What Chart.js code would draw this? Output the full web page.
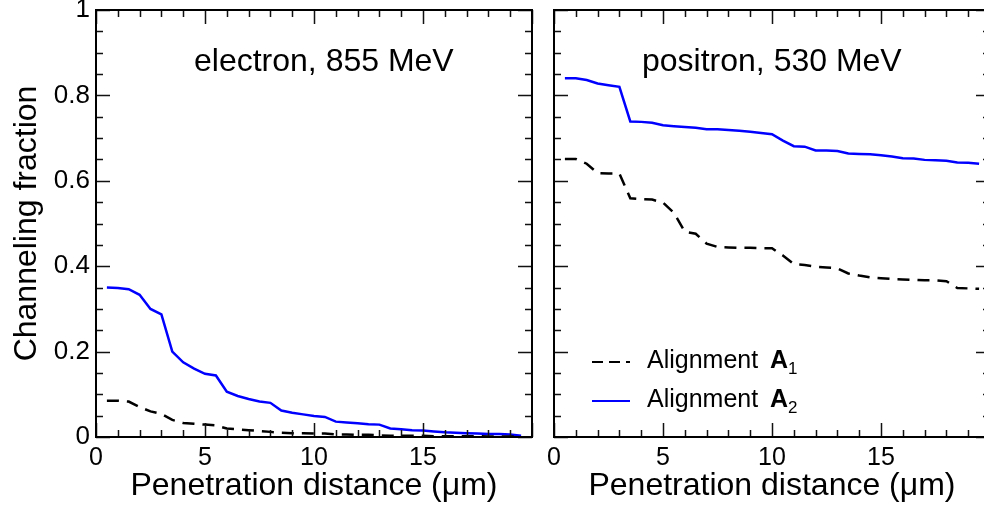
<!DOCTYPE html>
<html>
<head>
<meta charset="utf-8">
<title>Channeling fraction</title>
<script src="https://cdn.jsdelivr.net/npm/chart.js@4.4.0/dist/chart.umd.min.js"></script>
<style>
  html, body { margin: 0; padding: 0; background: #fff; overflow: hidden; }
  #wrap { position: relative; width: 984px; height: 507px; overflow: hidden; }
  #electron { position: absolute; left: 0; top: 0; }
  #positron { position: absolute; left: 545px; top: 0; }
</style>
</head>
<body>
<div id="wrap">
  <canvas id="electron" width="545" height="507"></canvas>
  <canvas id="positron" width="452" height="507"></canvas>
</div>
<script>
// penetration depth (um) of each simulation bin
const depth = [0.5, 1, 1.5, 2, 2.5, 3, 3.5, 4, 4.5, 5, 5.5, 6, 6.5, 7, 7.5, 8, 8.5, 9, 9.5, 10,
  10.5, 11, 11.5, 12, 12.5, 13, 13.5, 14, 14.5, 15, 15.5, 16, 16.5, 17, 17.5, 18, 18.5, 19, 19.5];

// electron, 855 MeV
const electronA1 = [0.085, 0.085, 0.083, 0.070, 0.060, 0.054, 0.040, 0.033, 0.031, 0.029, 0.027, 0.020,
  0.018, 0.016, 0.014, 0.012, 0.010, 0.009, 0.009, 0.008, 0.008, 0.006, 0.006, 0.005, 0.005, 0.004,
  0.003, 0.003, 0.003, 0.003, 0.002, 0.002, 0.002, 0.002, 0.002, 0.001, 0.001, 0.001, 0.001];
const electronA2 = [0.350, 0.349, 0.346, 0.333, 0.300, 0.287, 0.200, 0.175, 0.160, 0.148, 0.144, 0.106,
  0.096, 0.089, 0.083, 0.080, 0.062, 0.057, 0.053, 0.049, 0.047, 0.036, 0.034, 0.032, 0.030, 0.029,
  0.020, 0.018, 0.016, 0.015, 0.013, 0.011, 0.010, 0.009, 0.008, 0.007, 0.007, 0.006, 0.003];

// positron, 530 MeV
const positronA1 = [0.651, 0.651, 0.640, 0.618, 0.617, 0.617, 0.559, 0.557, 0.556, 0.549, 0.525, 0.481,
  0.476, 0.453, 0.445, 0.444, 0.443, 0.443, 0.442, 0.442, 0.425, 0.405, 0.403, 0.399, 0.397, 0.395,
  0.383, 0.378, 0.374, 0.372, 0.370, 0.369, 0.368, 0.367, 0.367, 0.365, 0.349, 0.348, 0.347];
const positronA2 = [0.840, 0.840, 0.836, 0.828, 0.824, 0.820, 0.739, 0.738, 0.736, 0.730, 0.728, 0.726,
  0.724, 0.721, 0.721, 0.719, 0.717, 0.715, 0.712, 0.709, 0.694, 0.681, 0.680, 0.671, 0.671, 0.670,
  0.664, 0.663, 0.662, 0.660, 0.657, 0.653, 0.652, 0.649, 0.648, 0.647, 0.643, 0.642, 0.640];

// legend entries: plain text, bold symbol, subscript
const legendParts = [['Alignment', 'A', '1'], ['Alignment', 'A', '2']];

const FONT = 'Liberation Sans, Arial, Helvetica, sans-serif';
Chart.defaults.font.family = FONT;
Chart.defaults.color = '#000';

// box around the plot with inward ticks on all four sides
const frameTicks = {
  id: 'frameTicks',
  afterDatasetsDraw(chart) {
    const {ctx, chartArea: a, scales: {x, y}} = chart;
    ctx.save();
    ctx.strokeStyle = '#111';
    ctx.lineWidth = 1.5;
    ctx.beginPath();
    for (let v = 0; v <= 20; v++) {
      const px = Math.round(x.getPixelForValue(v)) + 0.5;
      const len = v % 5 === 0 ? 14 : 7;
      ctx.moveTo(px, a.bottom); ctx.lineTo(px, a.bottom - len);
      ctx.moveTo(px, a.top); ctx.lineTo(px, a.top + len);
    }
    for (let i = 0; i <= 20; i++) {
      const py = Math.round(y.getPixelForValue(i * 0.05)) + 0.5;
      const len = i % 4 === 0 ? 14 : 7;
      ctx.moveTo(a.left, py); ctx.lineTo(a.left + len, py);
      ctx.moveTo(a.right, py); ctx.lineTo(a.right - len, py);
    }
    ctx.stroke();
    ctx.strokeStyle = '#000';
    ctx.lineWidth = 2;
    ctx.strokeRect(a.left, a.top, a.width, a.height);
    ctx.restore();
  }
};

// particle/energy caption inside the panel, plus optional legend
const panelText = {
  id: 'panelText',
  afterDraw(chart, args, opts) {
    const {ctx, chartArea: a} = chart;
    ctx.save();
    ctx.fillStyle = '#000';
    ctx.textBaseline = 'alphabetic';
    ctx.font = '32px ' + FONT;
    ctx.fillText(opts.text, a.left + opts.dx, a.top + opts.dy);

    if (opts.legend) {
      chart.data.datasets.forEach((ds, i) => {
        const rowY = a.top + 352 + i * 39;
        ctx.strokeStyle = ds.borderColor;
        ctx.lineWidth = 2;
        ctx.setLineDash(ds.borderDash ? [11, 6] : []);
        ctx.beginPath();
        ctx.moveTo(a.left + 38, rowY);
        ctx.lineTo(a.left + 76, rowY);
        ctx.stroke();
        ctx.setLineDash([]);

        const [label, sym, sub] = legendParts[i];
        const tx = a.left + 93, base = rowY + 6;
        ctx.font = '25px ' + FONT;
        ctx.fillText(label, tx, base);
        ctx.font = 'bold 25px ' + FONT;
        ctx.fillText(sym, tx + 123, base);
        const w = ctx.measureText(sym).width;
        ctx.font = '17px ' + FONT;
        ctx.fillText(sub, tx + 123 + w, base + 6);
      });
    }
    ctx.restore();
  }
};

function makeDatasets(a1, a2) {
  return [
    {
      label: 'Alignment A1',
      data: depth.map((d, i) => ({x: d, y: a1[i]})),
      borderColor: '#000',
      borderWidth: 2.5,
      borderDash: [12, 8],
      pointRadius: 0,
      tension: 0
    },
    {
      label: 'Alignment A2',
      data: depth.map((d, i) => ({x: d, y: a2[i]})),
      borderColor: '#0000ff',
      borderWidth: 2.5,
      pointRadius: 0,
      tension: 0
    }
  ];
}

function xScale() {
  return {
    type: 'linear',
    min: 0,
    max: 20,
    grid: {display: false, drawTicks: false},
    border: {display: false},
    ticks: {
      stepSize: 5,
      padding: 6,
      autoSkip: false,
      maxRotation: 0,
      font: {size: 25},
      color: '#000',
      callback: v => (v >= 20 ? '' : v)
    },
    title: {
      display: true,
      text: 'Penetration distance (μm)',
      font: {size: 32},
      color: '#000',
      padding: {top: 0, bottom: 2}
    },
    afterFit: s => {
      s.height = 70;
      s.paddingLeft = 0;
      s.paddingRight = 0;
    }
  };
}

function drawPanel(id, a1, a2, caption, captionDx, showY, showLegend, pad) {
  return new Chart(id, {
    type: 'line',
    data: {datasets: makeDatasets(a1, a2)},
    plugins: [frameTicks, panelText],
    options: {
      responsive: false,
      animation: false,
      devicePixelRatio: 1,
      layout: {padding: pad},
      scales: {
        x: xScale(),
        y: {
          display: showY,
          min: 0,
          max: 1,
          grid: {display: false, drawTicks: false},
          border: {display: false},
          ticks: {
            stepSize: 0.2,
            padding: 6,
            font: {size: 26},
            color: '#000',
            // 0 and 1 without trailing decimals
            callback: v => String(Number(v.toFixed(1)))
          },
          title: {
            display: true,
            text: 'Channeling fraction',
            font: {size: 32},
            color: '#000',
            padding: {top: 8, bottom: 0}
          },
          afterFit: s => {
            s.width = showY ? 96 : 0;
            s.paddingTop = 0;
            s.paddingBottom = 0;
          }
        }
      },
      plugins: {
        legend: {display: false},
        tooltip: {enabled: false},
        panelText: {text: caption, dx: captionDx, dy: 61, legend: showLegend}
      }
    }
  });
}

drawPanel('electron', electronA1, electronA2, 'electron, 855 MeV', 98, true, false,
  {top: 10, right: 13, left: 0, bottom: 0});
drawPanel('positron', positronA1, positronA2, 'positron, 530 MeV', 88, false, true,
  {top: 10, right: 7, left: 9, bottom: 0});
</script>
</body>
</html>
